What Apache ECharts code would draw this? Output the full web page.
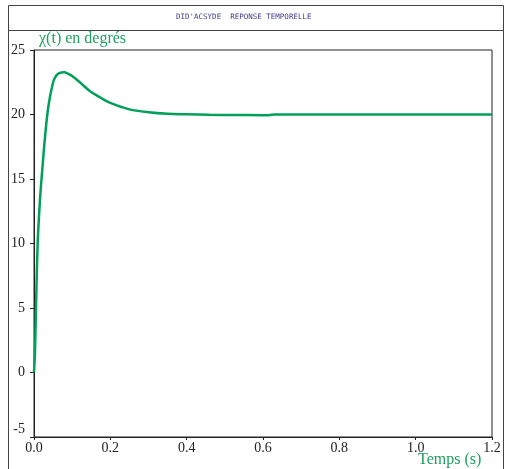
<!DOCTYPE html>
<html>
<head>
<meta charset="utf-8">
<script src="https://cdn.jsdelivr.net/npm/echarts@6/dist/echarts.min.js"></script>
<style>html,body{margin:0;padding:0;background:#fff;}#c{width:507px;height:469px;}</style>
</head>
<body>
<div id="c"></div>
<script>
var titleText = "DID'ACSYDE  REPONSE TEMPORELLE";
var yName = "χ(t) en degrés";
var xName = "Temps (s)";
var times = [0, 0.0026, 0.0052, 0.0097, 0.0157, 0.02, 0.029, 0.0375, 0.05, 0.058, 0.066, 0.079, 0.09, 0.099, 0.12, 0.147, 0.175, 0.2, 0.25, 0.3, 0.35, 0.4, 0.46, 0.52, 0.6, 0.615, 0.63, 0.7, 0.8, 0.9, 1.0, 1.1, 1.2];
var values = [0, 1.6, 5.0, 10.1, 13.4, 15.1, 18.3, 20.6, 22.5, 23.0, 23.2, 23.28, 23.15, 23.0, 22.5, 21.8, 21.3, 20.9, 20.4, 20.18, 20.06, 20.02, 19.98, 19.96, 19.95, 19.95, 20.0, 20.0, 20.0, 20.0, 20.0, 20.0, 20.0];
var xTicks = {min: 0, max: 1.2, interval: 0.2};
var yTicks = {min: -5, max: 25, interval: 5};

var data = times.map(function (t, i) { return [t, values[i]]; });
var chart = echarts.init(document.getElementById('c'));
var serif = "'Liberation Serif', 'DejaVu Serif', serif";
chart.setOption({
  animation: false,
  backgroundColor: '#fff',
  grid: {left: 34, top: 50, right: 15, bottom: 32, show: true, borderColor: '#222', borderWidth: 1, backgroundColor: 'transparent'},
  xAxis: {
    type: 'value', min: xTicks.min, max: xTicks.max, interval: xTicks.interval,
    axisLine: {show: true, onZero: false, lineStyle: {color: '#222', width: 1}},
    axisTick: {show: true, length: 3, lineStyle: {color: '#222'}},
    splitLine: {show: false},
    axisLabel: {margin: 4, color: '#222', fontFamily: serif, fontSize: 14,
      formatter: function (v) { return v.toFixed(1); }}
  },
  yAxis: {
    type: 'value', min: yTicks.min, max: yTicks.max, interval: yTicks.interval,
    axisLine: {show: true, onZero: false, lineStyle: {color: '#222', width: 1}},
    axisTick: {show: true, length: 4, lineStyle: {color: '#222'}},
    splitLine: {show: false},
    axisLabel: {margin: 9, color: '#222', fontFamily: serif, fontSize: 14,
      formatter: function (v) { return v === -5 ? '{m|-5}' : String(v); },
      rich: {m: {fontFamily: serif, fontSize: 14, color: '#222', padding: [0, 0, 16, 0]}}}
  },
  series: [{
    type: 'line', data: data, showSymbol: false, smooth: 0.3,
    lineStyle: {color: '#00a05a', width: 2.5}
  }],
  graphic: [
    {type: 'rect', shape: {x: 8.5, y: 5.5, width: 495, height: 500}, style: {fill: 'none', stroke: '#444', lineWidth: 1}, silent: true},
    {type: 'line', shape: {x1: 8.5, y1: 30.5, x2: 503.5, y2: 30.5}, style: {stroke: '#444', lineWidth: 1}, silent: true},
    {type: 'text', left: 176, top: 13, style: {text: titleText, font: "7.5px 'DejaVu Sans Mono', monospace", fill: '#3c3c8c'}},
    {type: 'text', left: 39, top: 31, style: {text: yName, font: "16px " + serif, fill: '#20a060'}},
    {type: 'text', left: 418, top: 452, style: {text: xName, font: "16px " + serif, fill: '#20a060'}}
  ]
});
</script>
</body>
</html>
